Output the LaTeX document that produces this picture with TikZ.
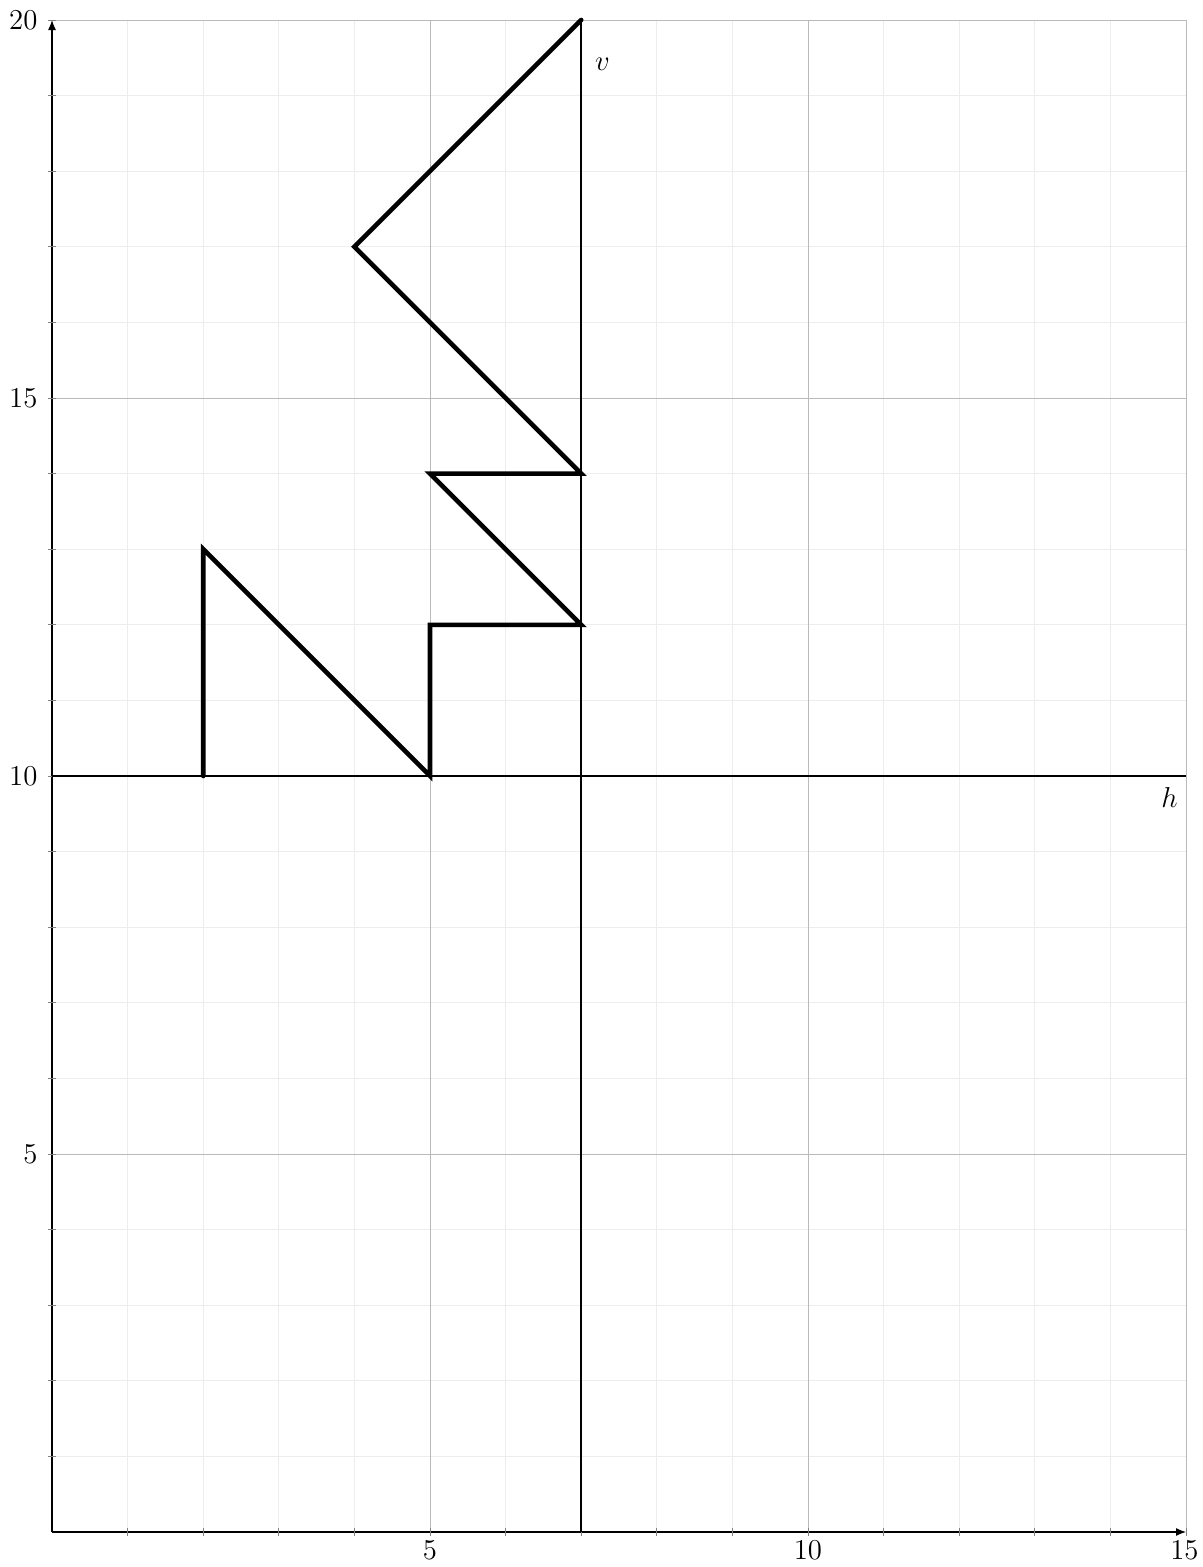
\documentclass[tikz,border=0pt]{standalone}
\usepackage{amsmath,amssymb}
\usepackage{tikz}
\usetikzlibrary{positioning, calc, arrows.meta}

\tikzset{
  minorgrid/.style={line width=0.4pt, black!7},
  majorgrid/.style={line width=0.5pt, black!27},
  axisline/.style={line width=0.6pt, -{Latex[length=5pt,width=4pt]}},
  halfline/.style={line width=1.1pt},
  pathline/.style={line width=2.3pt, line cap=round, line join=miter},
  ticklabel/.style={font=\fontsize{15}{17}\selectfont},
  xticklabel/.style={ticklabel, anchor=north, inner sep=0.5pt},
}

\begin{document}
\begin{tikzpicture}[x=37.8pt,y=37.8pt]

\useasboundingbox (-0.688,-0.463) rectangle (15.225,20.265);

% grid
\foreach \i in {1,...,15} \draw[minorgrid] (\i,0) -- (\i,20);
\foreach \j in {1,...,20} \draw[minorgrid] (0,\j) -- (15,\j);
\foreach \i in {5,10,15} \draw[majorgrid] (\i,0) -- (\i,20);
\foreach \j in {5,10,15,20} \draw[majorgrid] (0,\j) -- (15,\j);

% axes
\coordinate (o) at (0,0);
\coordinate (xend) at (15,0);
\coordinate (yend) at (0,20);
\draw[axisline] (o) -- (xend);
\draw[axisline] (o) -- (yend);

\foreach \i in {1,...,15} \draw[line width=0.4pt, black!50] (\i,-0.05) -- (\i,0.05);
\foreach \j in {1,...,20} \draw[line width=0.4pt, black!50] (-0.05,\j) -- (0.05,\j);

\node[xticklabel] (x5)  at (5,-0.1)  {$5$};
\node[xticklabel] (x10) at (10,-0.1) {$10$};
\node[xticklabel] (x15) at (14.98,-0.1) {$15$};

\node[ticklabel, anchor=east] (y5)  at (-0.1,5)  {$5$};
\node[ticklabel, anchor=east] (y10) at (-0.1,10) {$10$};
\node[ticklabel, anchor=east] (y15) at (-0.1,15) {$15$};
\node[ticklabel, anchor=east] (y20) at (-0.1,20) {$20$};

% h and v lines
\coordinate (hl) at (0,10);
\coordinate (hr) at (15,10);
\coordinate (vb) at (7,0);
\coordinate (vt) at (7,20);
\draw[halfline] (hl) -- (hr);
\draw[halfline] (vb) -- (vt);

\node[ticklabel] (vlab) at (7.28,19.41) {$v$};
\node[ticklabel] (hlab) at (14.78,9.71) {$h$};

% path
\coordinate (p1) at (2,10);
\coordinate (p2) at (2,13);
\coordinate (p3) at (5,10);
\coordinate (p4) at (5,12);
\coordinate (p5) at (7,12);
\coordinate (p6) at (5,14);
\coordinate (p7) at (7,14);
\coordinate (p8) at (4,17);
\coordinate (p9) at (7,20);

\draw[pathline] (p1) -- (p2) -- (p3) -- (p4) -- (p5) -- (p6) -- (p7) -- (p8) -- (p9);

\end{tikzpicture}
\end{document}
